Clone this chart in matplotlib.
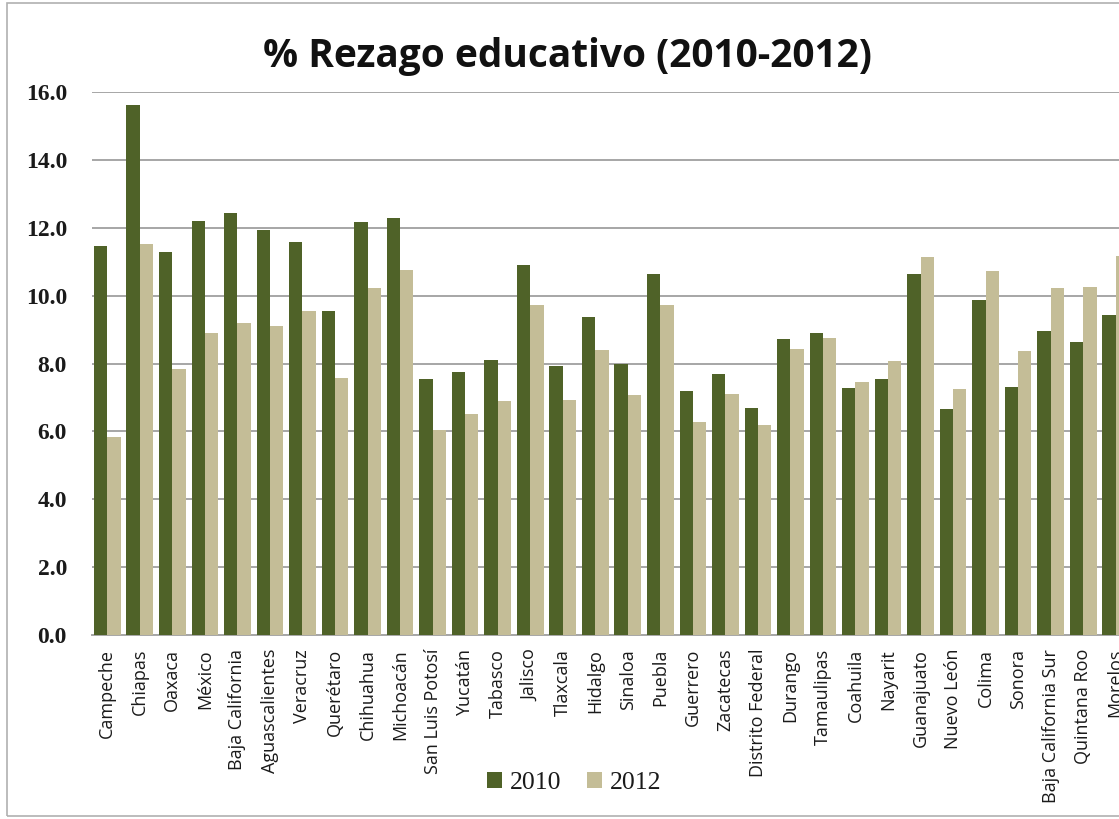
import matplotlib
matplotlib.use("Agg")
import matplotlib.pyplot as plt
from matplotlib.patches import Rectangle
import numpy as np

states = ["Campeche", "Chiapas", "Oaxaca", "México", "Baja California", "Aguascalientes",
          "Veracruz", "Querétaro", "Chihuahua", "Michoacán", "San Luis Potosí", "Yucatán",
          "Tabasco", "Jalisco", "Tlaxcala", "Hidalgo", "Sinaloa", "Puebla", "Guerrero",
          "Zacatecas", "Distrito Federal", "Durango", "Tamaulipas", "Coahuila", "Nayarit",
          "Guanajuato", "Nuevo León", "Colima", "Sonora", "Baja California Sur",
          "Quintana Roo", "Morelos"]

v2010 = [11.47, 15.61, 11.30, 12.21, 12.43, 11.94, 11.57, 9.56, 12.16, 12.28, 7.53, 7.76,
         8.11, 10.89, 7.94, 9.38, 7.99, 10.64, 7.19, 7.68, 6.69, 8.71, 8.89, 7.28, 7.55,
         10.64, 6.65, 9.88, 7.32, 8.97, 8.63, 9.43]
v2012 = [5.82, 11.52, 7.84, 8.89, 9.19, 9.11, 9.56, 7.58, 10.21, 10.76, 6.05, 6.50,
         6.90, 9.73, 6.91, 8.40, 7.06, 9.71, 6.29, 7.11, 6.20, 8.43, 8.75, 7.45, 8.06,
         11.13, 7.24, 10.74, 8.36, 10.23, 10.25, 11.18]

yticks = [0, 2, 4, 6, 8, 10, 12, 14, 16]
title = "% Rezago educativo (2010-2012)"
series_names = ["2010", "2012"]

c2010 = "#4F6228"
c2012 = "#C4BD97"
grid_c = "#A6A6A6"

W, H = 1119, 819
fig = plt.figure(figsize=(W / 100, H / 100), dpi=100)

# outer chart frame (cropped on the right)
fig.patches.append(Rectangle((7 / W, 3 / H), 1.2, 813 / H, transform=fig.transFigure,
                             fill=False, edgecolor="#B0B0B0", linewidth=1.2))

# axes: left at x=92px, spans beyond the right edge (image is cropped)
left_px, right_px = 92, 1132
bottom_px, top_px = 635, 92
ax = fig.add_axes([left_px / W, (H - bottom_px) / H, (right_px - left_px) / W,
                   (bottom_px - top_px) / H])

x = np.arange(len(states))
bw = 0.41
ax.bar(x - bw / 2, v2010, width=bw, color=c2010, label=series_names[0], zorder=3)
ax.bar(x + bw / 2, v2012, width=bw, color=c2012, label=series_names[1], zorder=3)

ax.set_xlim(-0.47, len(states) - 0.5)
ax.set_ylim(0, 16)
ax.set_yticks(yticks)
ax.set_yticklabels([f"{t:.1f}" for t in yticks], fontfamily="Liberation Serif",
                   fontweight="bold", fontsize=17, color="#1a1a1a")
ax.yaxis.grid(True, color=grid_c, linewidth=1.4, zorder=0)
ax.set_axisbelow(True)
for s in ["top", "right", "left"]:
    ax.spines[s].set_visible(False)
ax.spines["bottom"].set_color(grid_c)
ax.spines["bottom"].set_linewidth(1.4)
ax.tick_params(axis="y", length=0, pad=18)
ax.tick_params(axis="x", length=0, pad=10)
ax.set_xticks(x)
ax.set_xticklabels(states, rotation=90, fontfamily="Open Sans", fontsize=13,
                   color="#1a1a1a", va="top", ha="center")

fig.text(567 / W, 1 - 56 / H, title, ha="center", va="center", fontfamily="Open Sans",
         fontweight="bold", fontsize=28, color="#111111")

leg = fig.legend(loc="center", bbox_to_anchor=(574 / W, 1 - 783 / H), ncol=2,
                 frameon=False, prop={"family": "Liberation Serif", "size": 18.5},
                 handlelength=0.6, handleheight=0.6, handletextpad=0.3, columnspacing=1.0)
for t in leg.get_texts():
    t.set_color("#1a1a1a")

fig.savefig("out.png", dpi=100)
